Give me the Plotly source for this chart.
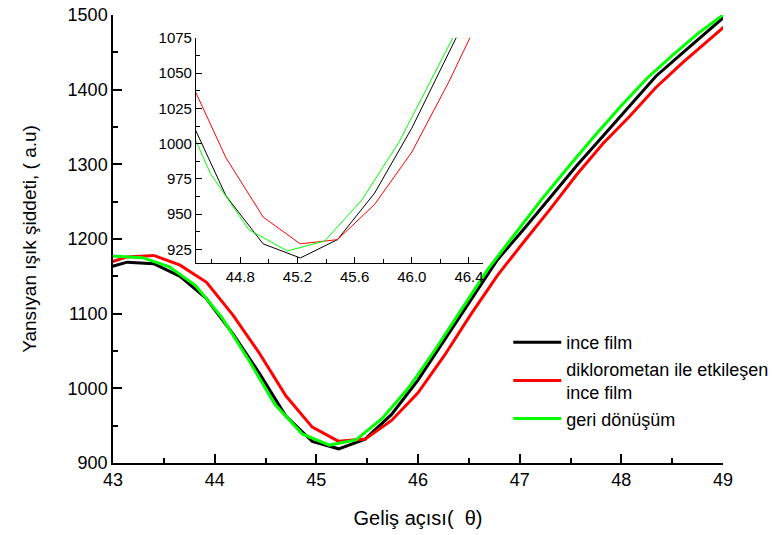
import plotly.graph_objects as go

# Angle grids
x_black_red = [42.88, 43.14, 43.40, 43.66, 43.92, 44.18, 44.44, 44.70, 44.96, 45.22, 45.48,
               45.74, 46.00, 46.26, 46.52, 46.78, 47.04, 47.30, 47.56, 47.82, 48.08, 48.34,
               48.60, 48.86, 49.12]
x_green = [42.77, 43.03, 43.29, 43.55, 43.81, 44.07, 44.33, 44.59, 44.86, 45.13, 45.39, 45.65,
           45.91, 46.17, 46.43, 46.69, 46.95, 47.21, 47.47, 47.73, 47.99, 48.25, 48.51,
           48.77, 49.03]

# Reflected intensity values
y_black = [1159, 1169, 1167, 1150, 1120, 1073, 1020, 963, 929, 919, 932,
           965, 1011, 1065, 1118, 1172, 1213, 1256, 1298, 1338, 1378, 1418,
           1449, 1479, 1510]
y_red = [1165, 1176, 1178, 1165, 1142, 1098, 1047, 990, 948, 929, 932,
         957, 994, 1044, 1099, 1151, 1196, 1240, 1286, 1328, 1364, 1403,
         1436, 1466, 1497]
y_green = [1177, 1177, 1175, 1163, 1138, 1095, 1039, 979, 939, 924, 931, 960,
           1001, 1052, 1106, 1160, 1206, 1252, 1295, 1337, 1377, 1415, 1447,
           1477, 1503]

names = ["ince film", "diklorometan ile etkileşen<br>ince film", "geri dönüşüm"]
colors = ["#000000", "#ff0000", "#00ff00"]

FONT = "Liberation Sans, Arial, sans-serif"

fig = go.Figure()
series = [(x_black_red, y_black), (x_black_red, y_red), (x_green, y_green)]
for (xs, ys), name, col in zip(series, names, colors):
    fig.add_trace(go.Scatter(x=xs, y=ys, mode="lines", name=name,
                             line=dict(color=col, width=3), xaxis="x", yaxis="y"))
for (xs, ys), name, col in zip(series, names, colors):
    fig.add_trace(go.Scatter(x=xs, y=ys, mode="lines", name=name, showlegend=False,
                             line=dict(color=col, width=1), xaxis="x2", yaxis="y2"))

axis_common = dict(showline=True, linecolor="black", linewidth=1.5, ticks="inside",
                   tickcolor="black", showgrid=False, zeroline=False, mirror=False)

fig.update_layout(
    width=784, height=535,
    margin=dict(l=113, r=61, t=15, b=72, autoexpand=False),
    paper_bgcolor="white", plot_bgcolor="white",
    font=dict(family=FONT, color="black", size=18),
    xaxis=dict(domain=[0, 1], range=[43, 49], dtick=1, tick0=43, ticklen=9, tickwidth=1.5,
               minor=dict(dtick=0.5, ticklen=5, ticks="inside", tickcolor="black", tickwidth=1.5),
               tickfont=dict(size=18),
               title=dict(text="Geliş açısı(  θ)", font=dict(size=20), standoff=22),
               anchor="y", **axis_common),
    yaxis=dict(domain=[0, 1], range=[900, 1500], dtick=100, tick0=900, ticklen=9, tickwidth=1.5,
               minor=dict(dtick=50, ticklen=5, ticks="inside", tickcolor="black", tickwidth=1.5),
               tickfont=dict(size=18),
               title=dict(text="Yansıyan ışık şiddeti, ( a.u)", font=dict(size=19), standoff=26),
               anchor="x", **axis_common),
    xaxis2=dict(domain=[0.136, 0.607], range=[44.49, 46.5], dtick=0.4, tick0=44.8,
                tickformat=".1f", ticklen=6, tickwidth=1,
                minor=dict(dtick=0.2, ticklen=4, ticks="inside", tickcolor="black", tickwidth=1),
                tickfont=dict(size=15), anchor="y2",
                showline=True, linecolor="black", linewidth=1, ticks="inside",
                tickcolor="black", showgrid=False, zeroline=False),
    yaxis2=dict(domain=[0.446, 0.949], range=[915.3, 1075], dtick=25, tick0=925,
                ticklen=6, tickwidth=1,
                minor=dict(dtick=12.5, ticklen=4, ticks="inside", tickcolor="black", tickwidth=1),
                tickfont=dict(size=15), anchor="x2",
                showline=True, linecolor="black", linewidth=1, ticks="inside",
                tickcolor="black", showgrid=False, zeroline=False),
    legend=dict(x=0.648, y=0.31, xanchor="left", yanchor="top", bgcolor="rgba(0,0,0,0)",
                font=dict(size=18), tracegroupgap=0, itemwidth=48),
    showlegend=True,
)

fig.write_html("out.html")
